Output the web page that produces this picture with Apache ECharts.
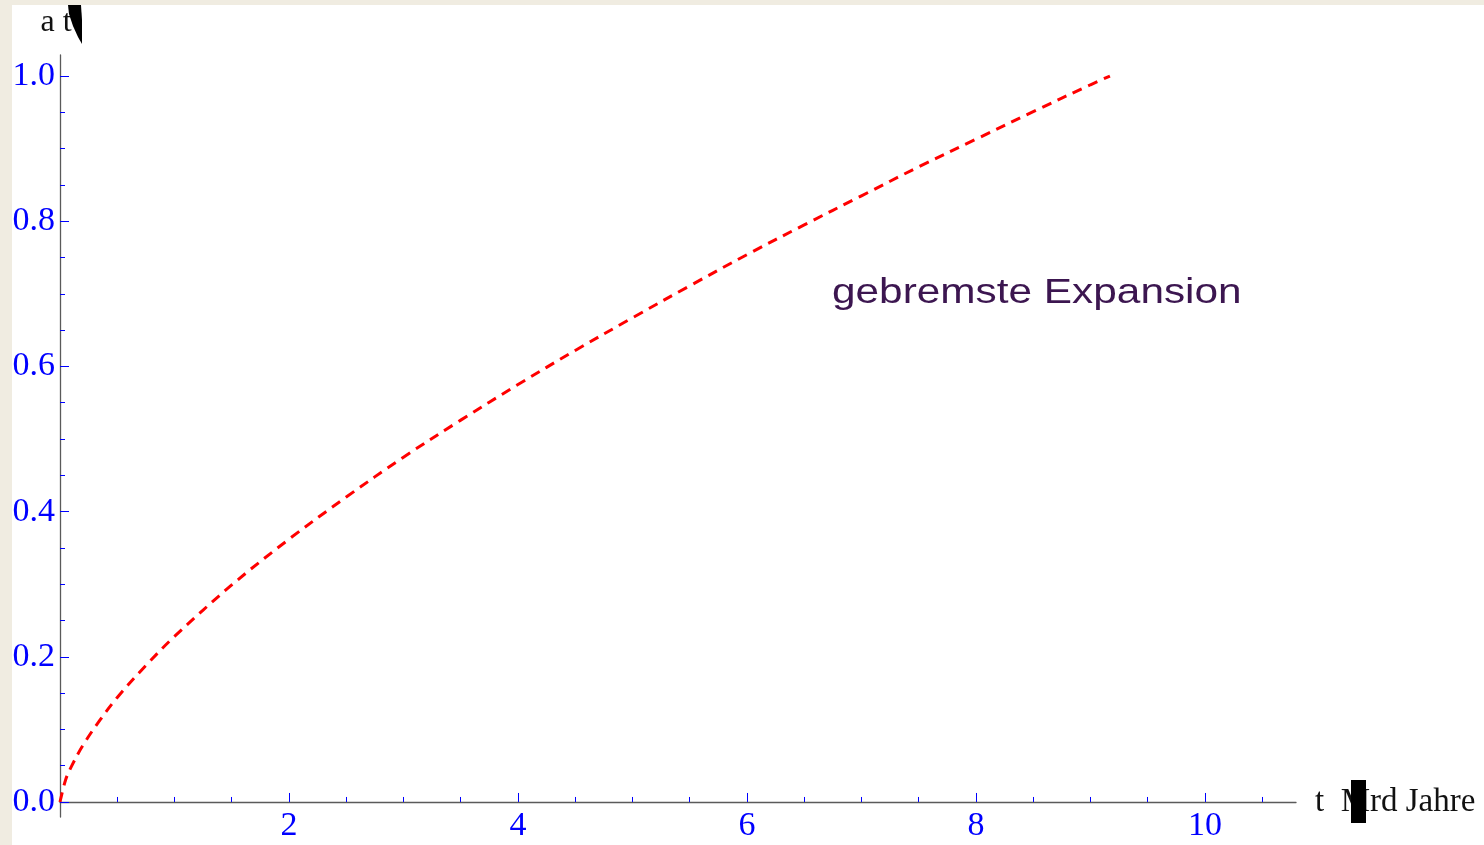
<!DOCTYPE html>
<html>
<head>
<meta charset="utf-8">
<title>gebremste Expansion</title>
<script src="https://cdn.jsdelivr.net/npm/echarts@6/dist/echarts.min.js"></script>
<style>
  html, body { margin: 0; padding: 0; background: #ffffff; }
  #chart { width: 1484px; height: 845px; }
</style>
</head>
<body>
<div id="chart"></div>
<script>
// Skalenfaktor a(t) über der Zeit t in Milliarden Jahren
const tYears = [0, 0.05, 0.1, 0.2, 0.35, 0.5, 0.75, 1, 1.5, 2, 2.5, 3, 3.5, 4, 4.5, 5, 5.5, 6, 6.5, 7, 7.5, 8, 8.5, 9, 9.17];
const aValues = [0, 0.031, 0.049, 0.078, 0.113, 0.144, 0.188, 0.228, 0.299, 0.362, 0.420, 0.475, 0.526, 0.575, 0.622, 0.667, 0.711, 0.754, 0.795, 0.835, 0.875, 0.913, 0.951, 0.988, 1.0];

// Achsenbeschriftung
const xMajorTicks = [2, 4, 6, 8, 10];
const xMinorTicks = [0.5, 1, 1.5, 2.5, 3, 3.5, 4.5, 5, 5.5, 6.5, 7, 7.5, 8.5, 9, 9.5, 10.5];
const yMajorTicks = [0, 0.2, 0.4, 0.6, 0.8, 1.0];
const yMinorTicks = [0.05, 0.1, 0.15, 0.25, 0.3, 0.35, 0.45, 0.5, 0.55, 0.65, 0.7, 0.75, 0.85, 0.9, 0.95];

const xAxisTitle = 't  Mrd Jahre';
const yAxisTitle = 'a t';
const curveLabel = 'gebremste Expansion';

const X_MIN = 0, X_MAX = 10.795;
const Y_MIN = -0.0207, Y_MAX = 1.029;

const serif = '"Liberation Serif", "DejaVu Serif", serif';
const tickBlue = '#0000ff';
const axisGray = '#5a5a5a';
const paper = '#f0ece1';

const points = tYears.map((t, i) => [t, aValues[i]]);

const chart = echarts.init(document.getElementById('chart'), null, { renderer: 'canvas' });

chart.setOption({
  backgroundColor: '#ffffff',
  animation: false,
  grid: { left: 60, right: 188, top: 55, bottom: 28, containLabel: false, outerBoundsMode: 'none' },
  xAxis: [
    {
      type: 'value', min: X_MIN, max: X_MAX, position: 'bottom',
      splitLine: { show: false },
      axisLine: { show: true, onZero: true, onZeroAxisIndex: 0, lineStyle: { color: axisGray, width: 1.3 } },
      axisTick: { show: true, inside: true, length: 9, customValues: xMajorTicks, lineStyle: { color: tickBlue, width: 1 } },
      axisLabel: {
        show: true, customValues: xMajorTicks, margin: -8,
        color: tickBlue, fontFamily: serif, fontSize: 34,
        formatter: v => String(Math.round(v))
      },
      name: xAxisTitle, nameLocation: 'end', nameGap: 19,
      nameTextStyle: { color: '#111111', fontFamily: serif, fontSize: 33, align: 'left', verticalAlign: 'middle', padding: [0, 0, 4, 0] }
    },
    {
      type: 'value', min: X_MIN, max: X_MAX, position: 'bottom',
      splitLine: { show: false },
      axisLine: { show: false, onZero: true, onZeroAxisIndex: 0 },
      axisTick: { show: true, inside: true, length: 5, customValues: xMinorTicks, lineStyle: { color: tickBlue, width: 1 } },
      axisLabel: { show: false }
    }
  ],
  yAxis: [
    {
      type: 'value', min: Y_MIN, max: Y_MAX, position: 'left',
      splitLine: { show: false },
      axisLine: { show: true, onZero: false, lineStyle: { color: axisGray, width: 1.3 } },
      axisTick: { show: true, inside: true, length: 9, customValues: yMajorTicks, lineStyle: { color: tickBlue, width: 1 } },
      axisLabel: {
        show: true, customValues: yMajorTicks, margin: 5,
        color: tickBlue, fontFamily: serif, fontSize: 34,
        formatter: v => v.toFixed(1)
      },
      name: yAxisTitle, nameLocation: 'end', nameGap: 16,
      nameTextStyle: { color: '#111111', fontFamily: serif, fontSize: 32, align: 'center', padding: [0, 8, 0, 0] }
    },
    {
      type: 'value', min: Y_MIN, max: Y_MAX, position: 'left',
      splitLine: { show: false },
      axisLine: { show: false, onZero: false },
      axisTick: { show: true, inside: true, length: 5, customValues: yMinorTicks, lineStyle: { color: tickBlue, width: 1 } },
      axisLabel: { show: false }
    }
  ],
  series: [
    {
      type: 'line', xAxisIndex: 0, yAxisIndex: 0,
      data: points, smooth: 0.35, showSymbol: false, symbol: 'none',
      lineStyle: { color: '#ff0000', width: 3, type: [10, 7], cap: 'butt' },
      z: 3
    }
  ],
  graphic: [
    // Papierrand links und oben
    { type: 'rect', left: 0, top: 0, z: 10, shape: { width: 12, height: 845 }, style: { fill: paper } },
    { type: 'rect', left: 0, top: 0, z: 10, shape: { width: 1484, height: 5 }, style: { fill: paper } },
    // Beschriftung der Kurve
    {
      type: 'text', x: 832, y: 293, scaleX: 1.21, z: 5,
      style: { text: curveLabel, fill: '#3c1650', font: '35px "Liberation Sans", Arial, sans-serif', textAlign: 'left', textVerticalAlign: 'middle' }
    },
    // Platzhalter fehlender Klammerzeichen
    {
      type: 'polygon', z: 6,
      shape: { points: [[68, 5], [81, 5], [82, 20], [82, 44], [78, 37], [73, 26], [69, 14]] },
      style: { fill: '#000000' }
    },
    { type: 'rect', z: 6, shape: { x: 1351, y: 780, width: 15, height: 43 }, style: { fill: '#000000' } }
  ]
});
</script>
</body>
</html>
